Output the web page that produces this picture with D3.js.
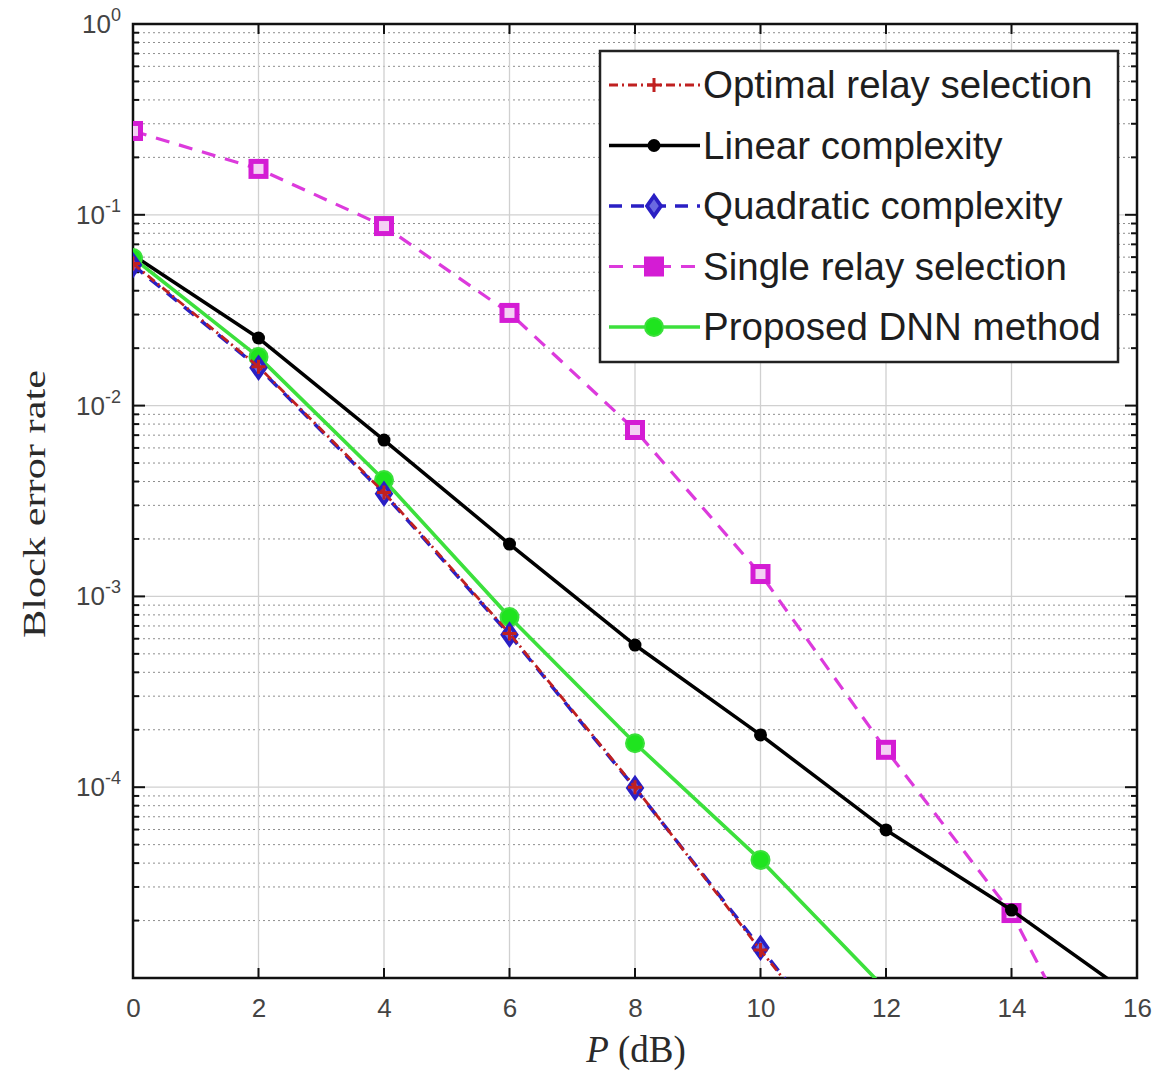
<!DOCTYPE html>
<html>
<head>
<meta charset="utf-8">
<script src="https://cdn.jsdelivr.net/npm/d3@7"></script>
<style>
  html, body { margin: 0; padding: 0; background: #fff; }
  svg { display: block; }
</style>
</head>
<body>
<svg id="chart" width="1156" height="1071"></svg>
<script>
// ---- data ----
const powerDb = [0, 2, 4, 6, 8, 10, 12, 14, 16];
const xTicks = [0, 2, 4, 6, 8, 10, 12, 14, 16];
const yDecades = [-5, -4, -3, -2, -1, 0];
const optimalRelay = [0.0555, 0.0160, 0.00350, 0.00064, 0.000100, 0.0000140, 0.0000021];
const quadraticComplexity = [0.0545, 0.0158, 0.00345, 0.00063, 0.0000990, 0.0000144, 0.0000021];
const linearComplexity = [0.0615, 0.0226, 0.0066, 0.00188, 0.000556, 0.000188, 0.0000597, 0.0000227, 0.0000077];
const singleRelay = [0.275, 0.174, 0.0873, 0.0306, 0.00745, 0.00131, 0.000157, 0.0000219, 0.0000012];
const proposedDnn = [0.0594, 0.0180, 0.00407, 0.00078, 0.000170, 0.0000416, 0.0000087];
const legendLabels = ["Optimal relay selection", "Linear complexity", "Quadratic complexity", "Single relay selection", "Proposed DNN method"];

// ---- layout ----
const L = 133, R = 1137, T = 24, B = 978;
const svg = d3.select("#chart");
const x = d3.scaleLinear().domain([0, 16]).range([L, R]);
const y = d3.scaleLog().domain([1e-5, 1]).range([B, T]);

svg.append("defs").append("clipPath").attr("id", "plotclip")
  .append("rect").attr("x", L).attr("y", T).attr("width", R - L).attr("height", B - T);

// ---- grid ----
const grid = svg.append("g");
const minorVals = [];
for (let e = -5; e < 0; e++) for (let m = 2; m <= 9; m++) minorVals.push(m * Math.pow(10, e));
grid.selectAll("line.minor").data(minorVals).join("line")
  .attr("x1", L).attr("x2", R).attr("y1", d => y(d)).attr("y2", d => y(d))
  .attr("stroke", "#8e8e8e").attr("stroke-width", 1).attr("stroke-dasharray", "2,3");
grid.selectAll("line.majy").data(yDecades).join("line")
  .attr("x1", L).attr("x2", R).attr("y1", d => y(Math.pow(10, d))).attr("y2", d => y(Math.pow(10, d)))
  .attr("stroke", "#d0d0d0").attr("stroke-width", 1.3);
grid.selectAll("line.majx").data(xTicks).join("line")
  .attr("x1", d => x(d)).attr("x2", d => x(d)).attr("y1", T).attr("y2", B)
  .attr("stroke", "#d0d0d0").attr("stroke-width", 1.3);

// ---- axes ----
const axes = svg.append("g");
const bx = d3.axisBottom(x).tickValues(xTicks).tickSize(0).tickFormat(d3.format("d"));
const gB = axes.append("g").attr("transform", `translate(0,${B})`).call(bx);
gB.select(".domain").remove();
gB.selectAll("text").attr("dy", null).attr("y", 39)
  .attr("font-family", "Liberation Sans, Arial, sans-serif").attr("font-size", 26).attr("fill", "#444");
axes.selectAll("line.xt").data(xTicks).join("line")
  .attr("x1", d => x(d)).attr("x2", d => x(d)).attr("y1", B).attr("y2", B - 10)
  .attr("stroke", "#111").attr("stroke-width", 2);
axes.selectAll("line.xtt").data(xTicks).join("line")
  .attr("x1", d => x(d)).attr("x2", d => x(d)).attr("y1", T).attr("y2", T + 10)
  .attr("stroke", "#111").attr("stroke-width", 2);
const allY = yDecades.map(d => Math.pow(10, d));
axes.selectAll("line.yl").data(allY).join("line")
  .attr("x1", L).attr("x2", L + 12).attr("y1", d => y(d)).attr("y2", d => y(d))
  .attr("stroke", "#111").attr("stroke-width", 2);
axes.selectAll("line.ylm").data(minorVals).join("line")
  .attr("x1", L).attr("x2", L + 6).attr("y1", d => y(d)).attr("y2", d => y(d))
  .attr("stroke", "#111").attr("stroke-width", 2);
axes.selectAll("line.yr").data(allY).join("line")
  .attr("x1", R).attr("x2", R - 12).attr("y1", d => y(d)).attr("y2", d => y(d))
  .attr("stroke", "#111").attr("stroke-width", 2);
axes.selectAll("line.yrm").data(minorVals).join("line")
  .attr("x1", R).attr("x2", R - 6).attr("y1", d => y(d)).attr("y2", d => y(d))
  .attr("stroke", "#111").attr("stroke-width", 2);
const ylab = axes.selectAll("text.ylab").data(yDecades.filter(d => d > -5)).join("text")
  .attr("x", L - 12).attr("y", d => y(Math.pow(10, d)) + 9)
  .attr("text-anchor", "end")
  .attr("font-family", "Liberation Sans, Arial, sans-serif").attr("font-size", 26).attr("fill", "#444");
ylab.append("tspan").text("10");
ylab.append("tspan").attr("dy", -12).attr("font-size", 18).text(d => d === 0 ? "0" : "-" + (-d));
axes.append("rect").attr("x", L).attr("y", T).attr("width", R - L).attr("height", B - T)
  .attr("fill", "none").attr("stroke", "#111").attr("stroke-width", 2.5);

// axis titles
svg.append("text")
  .attr("transform", `translate(45,${(370 + 638) / 2}) rotate(-90)`)
  .attr("text-anchor", "middle")
  .attr("font-family", "Liberation Serif, Times New Roman, serif").attr("font-size", 31).attr("fill", "#2a2a2a")
  .attr("textLength", 268).attr("lengthAdjust", "spacingAndGlyphs")
  .text("Block error rate");
const xt = svg.append("text").attr("x", 636).attr("y", 1062).attr("text-anchor", "middle")
  .attr("font-family", "Liberation Serif, Times New Roman, serif").attr("font-size", 37).attr("fill", "#2a2a2a");
xt.append("tspan").attr("font-style", "italic").text("P");
xt.append("tspan").text(" (dB)");

// ---- series ----
const series = [
  { name: legendLabels[0], values: optimalRelay, color: "#c02020", dash: "9,4,2,4", width: 2.8, marker: "plus" },
  { name: legendLabels[1], values: linearComplexity, color: "#000000", dash: null, width: 3.5, marker: "dot" },
  { name: legendLabels[2], values: quadraticComplexity, color: "#2a1fc4", dash: "13,9", width: 3.5, marker: "diamond" },
  { name: legendLabels[3], values: singleRelay, color: "#dc3adc", dash: "14,10", width: 3.2, marker: "square" },
  { name: legendLabels[4], values: proposedDnn, color: "#3ce03c", dash: null, width: 3.6, marker: "circle" }
];
const order = [3, 1, 4, 2, 0];

function drawMarker(g, type, cx, cy, color, legend) {
  if (type === "plus") {
    g.append("path").attr("d", `M${cx - 7},${cy}H${cx + 7}M${cx},${cy - 7}V${cy + 7}`)
      .attr("stroke", color).attr("stroke-width", 3).attr("fill", "none");
  } else if (type === "dot") {
    g.append("circle").attr("cx", cx).attr("cy", cy).attr("r", 6.5).attr("fill", color);
  } else if (type === "diamond") {
    g.append("path").attr("d", `M${cx},${cy - 10}L${cx + 7},${cy}L${cx},${cy + 10}L${cx - 7},${cy}Z`)
      .attr("stroke", color).attr("stroke-width", 3.8).attr("fill", "#6a6ae0");
  } else if (type === "square") {
    g.append("rect").attr("x", cx - 7.5).attr("y", cy - 7.5).attr("width", 15).attr("height", 15)
      .attr("stroke", "#d41cd4").attr("stroke-width", 5).attr("fill", legend ? "#d41cd4" : "#f4d0f4");
  } else if (type === "circle") {
    g.append("circle").attr("cx", cx).attr("cy", cy).attr("r", 9)
      .attr("fill", "#1fe41f").attr("stroke", "#3ce03c").attr("stroke-width", 2);
  }
}

const plot = svg.append("g").attr("clip-path", "url(#plotclip)");
order.forEach(i => {
  const s = series[i];
  const pts = s.values.map((v, k) => [powerDb[k], v]);
  const line = d3.line().x(d => x(d[0])).y(d => y(d[1]));
  plot.append("path").attr("d", line(pts)).attr("fill", "none")
    .attr("stroke", s.color).attr("stroke-width", s.width)
    .attr("stroke-dasharray", s.dash).attr("stroke-linejoin", "round");
  const mg = plot.append("g");
  pts.forEach(p => drawMarker(mg, s.marker, x(p[0]), y(p[1]), s.color, false));
});

// ---- legend ----
const lg = svg.append("g");
lg.append("rect").attr("x", 600).attr("y", 51).attr("width", 518).attr("height", 311)
  .attr("fill", "#fff").attr("stroke", "#222").attr("stroke-width", 2.5);
series.forEach((s, i) => {
  const cy = 85 + i * 60.5;
  lg.append("line").attr("x1", 609).attr("x2", 700).attr("y1", cy).attr("y2", cy)
    .attr("stroke", s.color).attr("stroke-width", s.width).attr("stroke-dasharray", s.dash);
  drawMarker(lg, s.marker, 654, cy, s.color, true);
  lg.append("text").attr("x", 703).attr("y", cy + 13)
    .attr("font-family", "Liberation Sans, Arial, sans-serif").attr("font-size", 38.5).attr("fill", "#1e1e1e")
    .text(s.name);
});
</script>
</body>
</html>
